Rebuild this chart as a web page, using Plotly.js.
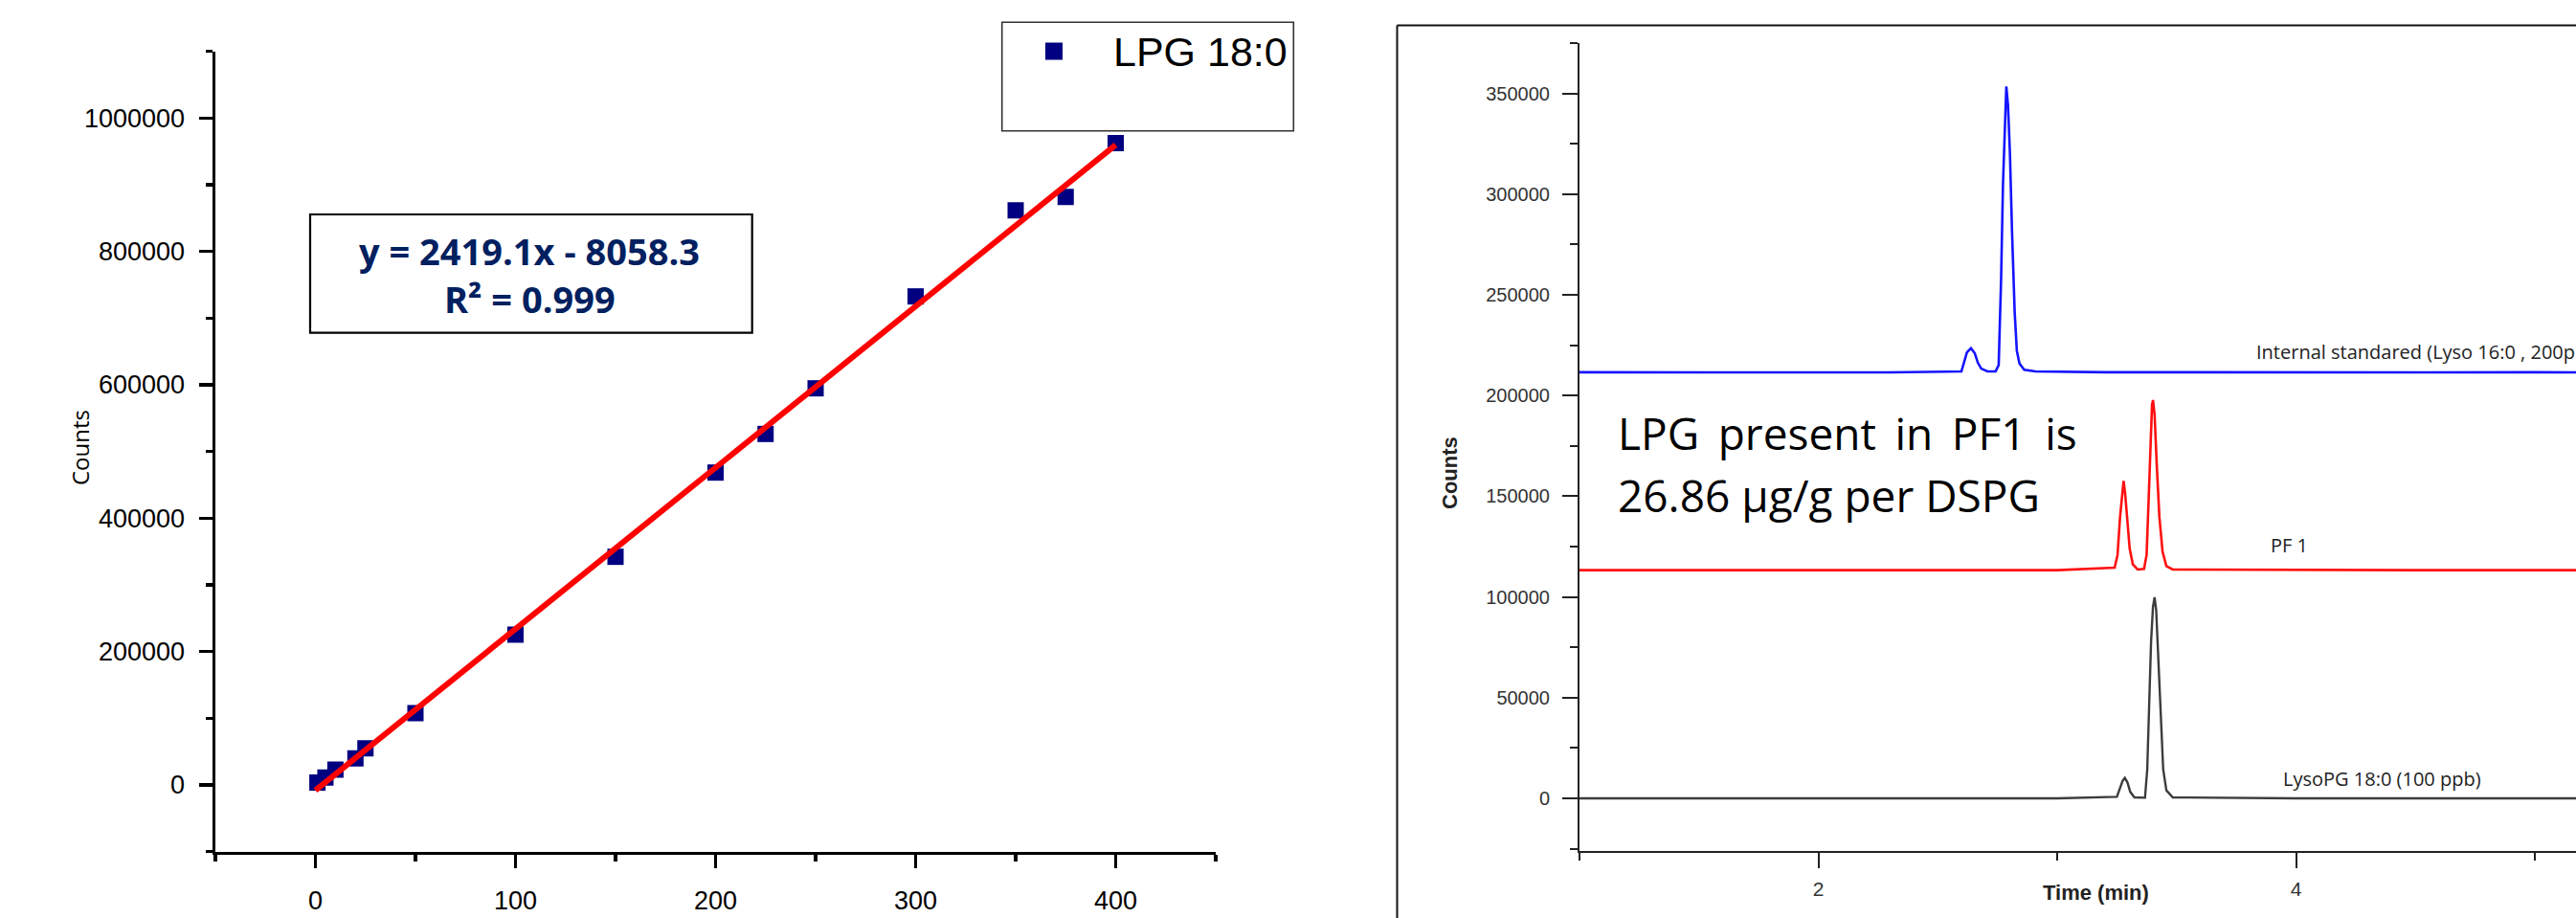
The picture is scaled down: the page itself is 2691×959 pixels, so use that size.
<!DOCTYPE html>
<html>
<head>
<meta charset="utf-8">
<script src="https://cdn.plot.ly/plotly-3.0.1.min.js"></script>
<style>
  html, body { margin: 0; padding: 0; background: #ffffff; overflow: hidden; }
  #chart { width: 2691px; height: 959px; }
</style>
</head>
<body>
<div id="chart"></div>
<script>
// ---------- Calibration curve (left panel) ----------
const concLPG = [1, 5, 10, 20, 25, 50, 100, 150, 200, 225, 250, 300, 350, 375, 400];
const countsLPG = [3800, 11000, 23000, 39700, 55000, 107700, 225400, 342100, 468400, 526300, 594700, 732500, 861400, 881600, 962300];
const fitX = [0, 400];
const fitY = [-8058, 959582];
const seriesName = "LPG 18:0";
const equationText = "y = 2419.1x - 8058.3";
const r2Text = "R\u00B2 = 0.999";
const leftXTicks = [0, 100, 200, 300, 400];
const leftYTicks = [0, 200000, 400000, 600000, 800000, 1000000];

// ---------- Chromatograms (right panel) ----------
const blueTime = [1.0, 1.5, 2.0, 2.3, 2.599, 2.608, 2.622, 2.639, 2.655, 2.668, 2.682, 2.708, 2.742, 2.755, 2.765, 2.773, 2.781, 2.787, 2.794, 2.802, 2.811, 2.822, 2.831, 2.842, 2.862, 2.909, 3.2, 3.6, 4.0, 4.5, 5.0, 5.3];
const blueCounts = [211600, 211500, 211500, 211500, 211980, 215940, 221480, 223540, 221010, 216250, 213400, 211980, 211980, 215140, 257130, 304670, 336360, 353470, 344280, 320510, 280900, 241290, 222270, 215940, 212770, 211980, 211600, 211500, 211600, 211500, 211600, 211500];

const redTime = [1.0, 2.0, 3.0, 3.2406, 3.2526, 3.2633, 3.2726, 3.2780, 3.2847, 3.2940, 3.3034, 3.3168, 3.3368, 3.3636, 3.3743, 3.3836, 3.3903, 3.3970, 3.4010, 3.4077, 3.4170, 3.4277, 3.4411, 3.4571, 3.4839, 4.0, 4.5, 5.3];
const redCounts = [113300, 113300, 113300, 114570, 120900, 139920, 152600, 157670, 151010, 136750, 124070, 116150, 113620, 113930, 120900, 151010, 177950, 195380, 197750, 190620, 165270, 139920, 122490, 115360, 113620, 113300, 113300, 113300];

const blackTime = [1.0, 2.0, 3.0, 3.2499, 3.2633, 3.2740, 3.2833, 3.2940, 3.3061, 3.3234, 3.3676, 3.3769, 3.3849, 3.3930, 3.4010, 3.4077, 3.4144, 3.4224, 3.4331, 3.4438, 3.4571, 3.4839, 4.0, 4.5, 5.3];
const blackCounts = [0, 0, 0, 790, 4750, 8710, 10140, 7920, 3170, 480, 300, 14260, 45950, 77640, 95070, 99830, 93490, 69720, 38030, 14260, 3960, 480, 0, 0, 0];

const traceLabels = ["Internal standared (Lyso 16:0 , 200ppb)", "PF 1", "LysoPG 18:0 (100 ppb)"];
const noteLine1 = "LPG \u2009present \u2009in \u2009PF1 \u2009is";
const noteLine2 = "26.86 \u00B5g/g per DSPG";
const rightXTicks = [2, 4];
const rightYTicks = [0, 50000, 100000, 150000, 200000, 250000, 300000, 350000];

// ---------- layout helpers (pixel -> paper) ----------
const W = 2691, H = 959;
const PX = x => x / W;
const PY = y => 1 - y / H;

const traces = [
  { x: concLPG, y: countsLPG, type: 'scatter', mode: 'markers', name: seriesName,
    xaxis: 'x', yaxis: 'y',
    marker: { symbol: 'square', size: 17, color: '#000080', line: { width: 0 } }, showlegend: false },
  { x: fitX, y: fitY, type: 'scatter', mode: 'lines', name: 'fit',
    xaxis: 'x', yaxis: 'y', line: { color: '#ff0000', width: 6 }, showlegend: false },
  { x: blueTime, y: blueCounts, type: 'scatter', mode: 'lines', name: traceLabels[0],
    xaxis: 'x2', yaxis: 'y2', line: { color: '#1414ff', width: 2.6 }, showlegend: false },
  { x: redTime, y: redCounts, type: 'scatter', mode: 'lines', name: traceLabels[1],
    xaxis: 'x2', yaxis: 'y2', line: { color: '#ff1010', width: 2.6 }, showlegend: false },
  { x: blackTime, y: blackCounts, type: 'scatter', mode: 'lines', name: traceLabels[2],
    xaxis: 'x2', yaxis: 'y2', line: { color: '#3c3c3c', width: 2.4 }, showlegend: false }
];

const leftAxisCommon = {
  showgrid: false, zeroline: false, showline: true, linecolor: '#000', linewidth: 3.5,
  ticks: 'outside', tickcolor: '#000', tickwidth: 3.5, ticklen: 14,
  tickfont: { family: 'Liberation Sans, Arial, sans-serif', size: 27, color: '#000' },
  mirror: false, fixedrange: true
};
const rightAxisCommon = {
  showgrid: false, zeroline: false, showline: true, linecolor: '#222', linewidth: 2,
  ticks: 'outside', tickcolor: '#222', tickwidth: 2, ticklen: 16,
  mirror: false, fixedrange: true
};

const layout = {
  width: W, height: H,
  margin: { l: 0, r: 0, t: 0, b: 0, pad: 0 },
  paper_bgcolor: '#ffffff', plot_bgcolor: 'rgba(0,0,0,0)',
  showlegend: false,
  font: { family: 'Liberation Sans, Arial, sans-serif', color: '#000' },
  xaxis: Object.assign({}, leftAxisCommon, {
    domain: [PX(225), PX(1270)], anchor: 'y', range: [-50, 450],
    tickmode: 'array', tickvals: leftXTicks, ticktext: leftXTicks.map(String),
    ticklabelstandoff: 10,
    minor: { dtick: 50, tick0: 0, ticks: 'outside', ticklen: 7, tickwidth: 3.5, tickcolor: '#000' }
  }),
  yaxis: Object.assign({}, leftAxisCommon, {
    domain: [PY(889.7), PY(53.6)], anchor: 'x', range: [-100000, 1100000],
    tickmode: 'array', tickvals: leftYTicks, ticktext: leftYTicks.map(String),
    ticklabelstandoff: 9,
    minor: { dtick: 100000, tick0: 0, ticks: 'outside', ticklen: 7, tickwidth: 3.5, tickcolor: '#000' }
  }),
  xaxis2: Object.assign({}, rightAxisCommon, {
    domain: [PX(1650), 1], anchor: 'y2', range: [1, 5.172],
    tickmode: 'array', tickvals: rightXTicks, ticktext: rightXTicks.map(String),
    tickfont: { family: 'Liberation Sans, Arial, sans-serif', size: 21, color: '#333' },
    ticklabelstandoff: 4,
    minor: { dtick: 1, tick0: 0, ticks: 'outside', ticklen: 8, tickwidth: 2, tickcolor: '#222' }
  }),
  yaxis2: Object.assign({}, rightAxisCommon, {
    domain: [PY(888.7), PY(45.1)], anchor: 'x2', range: [-26000, 375000],
    tickmode: 'array', tickvals: rightYTicks, ticktext: rightYTicks.map(String),
    tickfont: { family: 'Liberation Sans, Arial, sans-serif', size: 20, color: '#333' },
    ticklabelstandoff: 9,
    minor: { dtick: 25000, tick0: 0, ticks: 'outside', ticklen: 8, tickwidth: 2, tickcolor: '#222' }
  }),
  shapes: [
    // equation box
    { type: 'rect', xref: 'paper', yref: 'paper', x0: PX(324), x1: PX(785.7), y0: PY(347.7), y1: PY(224),
      line: { color: '#000', width: 2.2 }, fillcolor: 'rgba(0,0,0,0)' },
    // legend box
    { type: 'rect', xref: 'paper', yref: 'paper', x0: PX(1046.7), x1: PX(1351.3), y0: PY(136.7), y1: PY(23.3),
      line: { color: '#333', width: 1.6 }, fillcolor: 'rgba(255,255,255,0)' },
    // legend symbol
    { type: 'rect', xref: 'paper', yref: 'paper', x0: PX(1092), x1: PX(1110), y0: PY(62.5), y1: PY(44.5),
      line: { width: 0 }, fillcolor: '#000080' },
    // right panel frame (top and left edges; the rest is outside the image)
    { type: 'line', xref: 'paper', yref: 'paper', x0: PX(1459.5), x1: PX(2720), y0: PY(26.5), y1: PY(26.5),
      line: { color: '#111', width: 2 } },
    { type: 'line', xref: 'paper', yref: 'paper', x0: PX(1459.5), x1: PX(1459.5), y0: PY(26.5), y1: PY(990),
      line: { color: '#111', width: 2 } }
  ],
  annotations: [
    { xref: 'paper', yref: 'paper', x: PX(553), y: PY(262), text: equationText, showarrow: false,
      xanchor: 'center', yanchor: 'middle',
      font: { family: 'Open Sans, sans-serif', size: 38, color: '#002060', weight: 700 } },
    { xref: 'paper', yref: 'paper', x: PX(553), y: PY(312), text: r2Text, showarrow: false,
      xanchor: 'center', yanchor: 'middle',
      font: { family: 'Open Sans, sans-serif', size: 38, color: '#002060', weight: 700 } },
    { xref: 'paper', yref: 'paper', x: PX(1161), y: PY(54), text: seriesName, showarrow: false,
      xanchor: 'left', yanchor: 'middle',
      font: { family: 'Liberation Sans, Arial, sans-serif', size: 43, color: '#000' } },
    { xref: 'paper', yref: 'paper', x: PX(83), y: PY(468), text: 'Counts', showarrow: false, textangle: -90,
      xanchor: 'center', yanchor: 'middle',
      font: { family: 'Open Sans, sans-serif', size: 24, color: '#000' } },
    { xref: 'paper', yref: 'paper', x: PX(1514), y: PY(494), text: 'Counts', showarrow: false, textangle: -90,
      xanchor: 'center', yanchor: 'middle',
      font: { family: 'Liberation Sans, Arial, sans-serif', size: 22, color: '#222', weight: 700 } },
    { xref: 'paper', yref: 'paper', x: PX(2189.5), y: PY(932), text: 'Time (min)', showarrow: false,
      xanchor: 'center', yanchor: 'middle',
      font: { family: 'Liberation Sans, Arial, sans-serif', size: 22, color: '#222', weight: 700 } },
    { xref: 'paper', yref: 'paper', x: PX(1688), y: PY(452), text: noteLine1, showarrow: false,
      xanchor: 'left', yanchor: 'middle',
      font: { family: 'Open Sans, sans-serif', size: 46, color: '#000' } },
    { xref: 'paper', yref: 'paper', x: PX(1688), y: PY(517), text: noteLine2, showarrow: false,
      xanchor: 'left', yanchor: 'middle',
      font: { family: 'Open Sans, sans-serif', size: 46, color: '#000' } },
    { xref: 'paper', yref: 'paper', x: PX(2355), y: PY(367), text: traceLabels[0], showarrow: false,
      xanchor: 'left', yanchor: 'middle',
      font: { family: 'Open Sans, sans-serif', size: 20, color: '#222' } },
    { xref: 'paper', yref: 'paper', x: PX(2370), y: PY(569), text: traceLabels[1], showarrow: false,
      xanchor: 'left', yanchor: 'middle',
      font: { family: 'Open Sans, sans-serif', size: 20, color: '#222' } },
    { xref: 'paper', yref: 'paper', x: PX(2383), y: PY(813), text: traceLabels[2], showarrow: false,
      xanchor: 'left', yanchor: 'middle',
      font: { family: 'Open Sans, sans-serif', size: 20, color: '#222' } }
  ]
};

Plotly.newPlot('chart', traces, layout, { staticPlot: true, displayModeBar: false });
</script>
</body>
</html>
